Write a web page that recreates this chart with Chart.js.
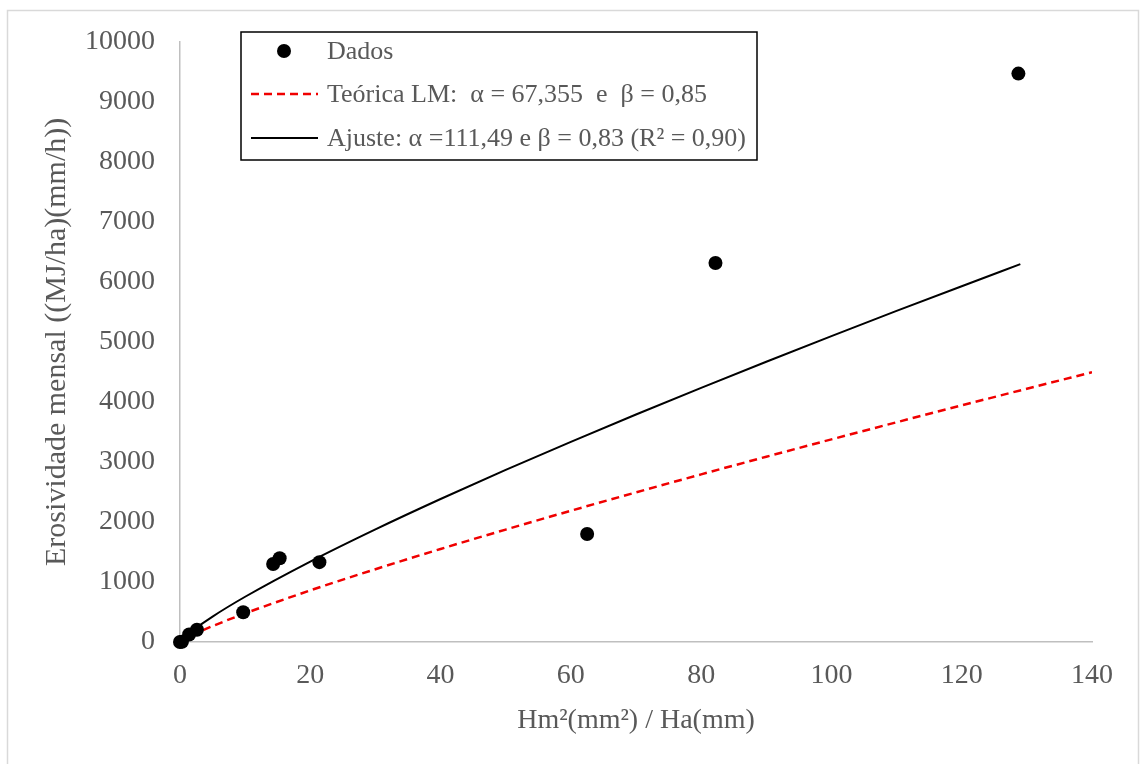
<!DOCTYPE html>
<html lang="pt">
<head>
<meta charset="utf-8">
<title>Erosividade mensal</title>
<script src="https://cdn.jsdelivr.net/npm/chart.js@4.4.1/dist/chart.umd.min.js"></script>
<style>
  html, body { margin: 0; padding: 0; background: #fff; }
  canvas { display: block; }
</style>
</head>
<body>
<canvas id="erosChart" width="1141" height="764"></canvas>
<script>
// --- observed points (Hm²/Ha vs monthly erosivity) ---
const dadosX = [0, 0.3, 1.4, 2.6, 9.7, 14.3, 15.3, 21.4, 62.5, 82.2, 128.7];
const dadosY = [0, 5, 125, 205, 495, 1300, 1395, 1330, 1800, 6315, 9470];

// --- theoretical curve (LM) ---
const teoricaX = [0, 1, 2, 5, 10, 20, 30, 40, 50, 60, 70, 80, 90, 100, 110, 120, 130, 140];
const teoricaY = [0, 67, 121, 265, 477, 860, 1213, 1550, 1873, 2187, 2493, 2793, 3087, 3376, 3661, 3942, 4220, 4494];

// --- fitted curve ---
const ajusteX = [0, 1, 2, 5, 10, 20, 30, 40, 50, 60, 70, 80, 90, 100, 110, 120, 129];
const ajusteY = [0, 111, 198, 424, 754, 1340, 1876, 2382, 2867, 3335, 3790, 4235, 4669, 5096, 5516, 5928, 6295];

// axis ticks
const xTicks = [0, 20, 40, 60, 80, 100, 120, 140];
const yTicks = [0, 1000, 2000, 3000, 4000, 5000, 6000, 7000, 8000, 9000, 10000];

const labels = [
  "Dados",
  "Teórica LM:  α = 67,355  e  β = 0,85",
  "Ajuste: α =111,49 e β = 0,83 (R² = 0,90)"
];

const FONT = '"Liberation Serif", "Times New Roman", serif';
const GREY_TEXT = "#595959";
const AXIS_GREY = "#bfbfbf";

const toPoints = (xs, ys) => xs.map((x, i) => ({ x: x, y: ys[i] }));

// white background + light frame round the whole chart
const frame = {
  id: "frame",
  beforeDraw(chart) {
    const ctx = chart.ctx;
    ctx.save();
    ctx.fillStyle = "#fff";
    ctx.fillRect(0, 0, chart.width, chart.height);
    ctx.strokeStyle = "#d9d9d9";
    ctx.lineWidth = 1.5;
    ctx.strokeRect(7.5, 10.5, 1131, 770);
    ctx.restore();
  }
};

// boxed legend sitting inside the plot area
const boxLegend = {
  id: "boxLegend",
  afterDraw(chart) {
    const ctx = chart.ctx;
    const left = 241, top = 32, w = 516, h = 128;
    const rows = [51, 94, 138];
    ctx.save();
    ctx.fillStyle = "#fff";
    ctx.fillRect(left, top, w, h);
    ctx.strokeStyle = "#000";
    ctx.lineWidth = 1.5;
    ctx.strokeRect(left, top, w, h);

    chart.data.datasets.forEach((ds, i) => {
      const y = rows[i];
      if (ds.showLine) {
        ctx.beginPath();
        ctx.setLineDash(ds.borderDash || []);
        ctx.strokeStyle = ds.borderColor;
        ctx.lineWidth = ds.borderWidth;
        ctx.moveTo(251, y);
        ctx.lineTo(318, y);
        ctx.stroke();
        ctx.setLineDash([]);
      } else {
        ctx.beginPath();
        ctx.fillStyle = ds.backgroundColor;
        ctx.arc(284, y, ds.pointRadius, 0, Math.PI * 2);
        ctx.fill();
      }
      ctx.fillStyle = GREY_TEXT;
      ctx.font = "26px " + FONT;
      ctx.textBaseline = "middle";
      ctx.textAlign = "left";
      ctx.fillText(ds.label, 327, y + 1);
    });
    ctx.restore();
  }
};

const ctx = document.getElementById("erosChart").getContext("2d");
new Chart(ctx, {
  type: "scatter",
  data: {
    datasets: [
      {
        label: labels[0],
        data: toPoints(dadosX, dadosY),
        pointRadius: 7,
        pointHoverRadius: 7,
        backgroundColor: "#000",
        borderColor: "#000",
        borderWidth: 0,
        showLine: false,
        clip: false
      },
      {
        label: labels[1],
        data: toPoints(teoricaX, teoricaY),
        showLine: true,
        borderColor: "#f00000",
        borderWidth: 2.5,
        borderDash: [8, 5],
        pointRadius: 0,
        cubicInterpolationMode: "monotone",
        fill: false
      },
      {
        label: labels[2],
        data: toPoints(ajusteX, ajusteY),
        showLine: true,
        borderColor: "#000",
        borderWidth: 2,
        pointRadius: 0,
        cubicInterpolationMode: "monotone",
        fill: false
      }
    ]
  },
  options: {
    responsive: false,
    animation: false,
    layout: { padding: { top: 40, right: 49, left: 0, bottom: 0 } },
    plugins: {
      legend: { display: false },
      tooltip: { enabled: false }
    },
    scales: {
      x: {
        type: "linear",
        min: 0,
        max: 140,
        afterBuildTicks: (axis) => { axis.ticks = xTicks.map(v => ({ value: v })); },
        afterFit: (axis) => { axis.height = 122; },
        grid: { display: false, drawTicks: false },
        border: { display: true, color: AXIS_GREY, width: 1.5 },
        ticks: {
          color: GREY_TEXT,
          padding: 17,
          font: { family: FONT, size: 28 },
          callback: (v) => String(v)
        },
        title: {
          display: true,
          text: "Hm²(mm²) / Ha(mm)",
          color: GREY_TEXT,
          font: { family: FONT, size: 28 },
          padding: { top: 0, bottom: 27 }
        }
      },
      y: {
        type: "linear",
        min: 0,
        max: 10000,
        afterBuildTicks: (axis) => { axis.ticks = yTicks.map(v => ({ value: v })); },
        afterFit: (axis) => { axis.width = 180; },
        grid: { display: false, drawTicks: false },
        border: { display: true, color: AXIS_GREY, width: 1.5 },
        ticks: {
          color: GREY_TEXT,
          padding: 25,
          font: { family: FONT, size: 28 },
          callback: (v) => String(v)
        },
        title: {
          display: true,
          text: "Erosividade mensal ((MJ/ha)(mm/h))",
          color: GREY_TEXT,
          font: { family: FONT, size: 30 },
          padding: { top: 39, bottom: 0 }
        }
      }
    }
  },
  plugins: [frame, boxLegend]
});
</script>
</body>
</html>
